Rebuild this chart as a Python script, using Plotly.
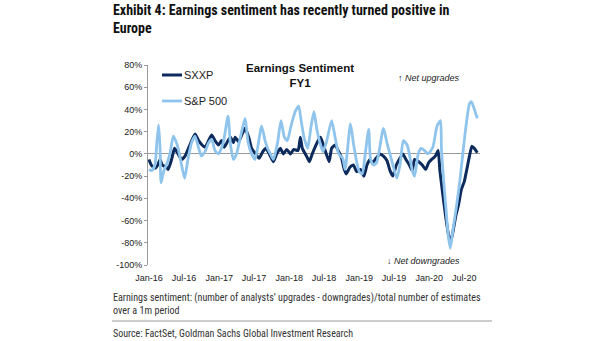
import plotly.graph_objects as go

# ---------------- data ----------------
spx_dates = [
    "2016-01-01", "2016-01-16", "2016-02-01", "2016-02-11", "2016-02-20", "2016-02-28",
    "2016-03-04", "2016-03-19", "2016-04-01", "2016-04-19", "2016-05-07", "2016-05-19",
    "2016-06-01", "2016-06-19", "2016-07-05", "2016-07-22", "2016-08-10", "2016-08-28",
    "2016-09-16", "2016-10-01", "2016-10-19", "2016-11-07", "2016-11-23", "2016-12-10",
    "2016-12-28", "2017-01-22", "2017-02-16", "2017-03-01", "2017-03-16", "2017-04-01",
    "2017-04-28", "2017-05-16", "2017-06-01", "2017-06-19", "2017-07-07", "2017-08-10",
    "2017-08-28", "2017-09-10", "2017-09-25", "2017-10-10", "2017-11-01", "2017-11-19",
    "2017-12-07", "2017-12-22", "2018-01-10", "2018-02-01", "2018-02-19", "2018-03-04",
    "2018-03-19", "2018-04-07", "2018-04-25", "2018-05-10", "2018-05-25", "2018-06-10",
    "2018-06-25", "2018-07-13", "2018-08-10", "2018-08-28", "2018-09-16", "2018-10-07",
    "2018-10-19", "2018-11-16", "2018-12-01", "2018-12-16", "2019-01-01", "2019-01-16",
    "2019-02-01", "2019-02-19", "2019-03-01", "2019-03-16", "2019-04-01", "2019-05-07",
    "2019-05-25", "2019-06-10", "2019-06-25", "2019-07-16", "2019-08-01", "2019-08-19",
    "2019-09-07", "2019-09-19", "2019-10-04", "2019-10-16", "2019-11-04", "2019-11-19",
    "2019-12-07", "2019-12-25", "2020-01-19", "2020-02-10", "2020-02-28", "2020-03-04",
    "2020-03-16", "2020-03-28", "2020-04-07", "2020-04-19", "2020-05-01", "2020-05-19",
    "2020-06-07", "2020-06-22", "2020-07-10", "2020-07-28", "2020-08-07", "2020-08-19",
    "2020-09-07",
]
spx_values = [
    -14, -15, -10, 10, 26, 5,
    -26, -15, -10, 0, 16, 12,
    5, -10, -22, -5, 10, 16,
    5, -2, 2, 10, 13, 3,
    0, 10, 34, 8, -5, 0,
    20, 32, 10, 0, -5, 25,
    12, 5, 0, -5, 10, 30,
    15, 12, 25, 38, 43, 30,
    15, 5, 25, 38, 22, 10,
    2, 10, 30, 15, 0, -4,
    -14, 27, 10, -5, -16, -18,
    0, 22, -5, -10, -8, 23,
    10, 0, -10, -22, -10, 12,
    8, 0, -15, -20, 0, 5,
    3, 0, 6, 25, 30, 5,
    -25, -50, -71, -85, -71, -50,
    -26, -2, 25, 45, 47, 42,
    32,
]

sxxp_dates = [
    "2016-01-01", "2016-01-13", "2016-02-01", "2016-02-16", "2016-02-28", "2016-03-10",
    "2016-04-01", "2016-04-10", "2016-04-28", "2016-05-13", "2016-05-22", "2016-06-01",
    "2016-06-19", "2016-07-07", "2016-08-01", "2016-08-28", "2016-09-16", "2016-10-04",
    "2016-10-19", "2016-11-07", "2016-11-23", "2016-12-10", "2016-12-28", "2017-01-13",
    "2017-01-28", "2017-02-16", "2017-03-01", "2017-03-16", "2017-03-25", "2017-04-13",
    "2017-05-01", "2017-05-16", "2017-06-04", "2017-06-19", "2017-07-10", "2017-07-28",
    "2017-08-16", "2017-09-01", "2017-09-19", "2017-10-10", "2017-10-28", "2017-11-16",
    "2017-12-01", "2017-12-19", "2018-01-07", "2018-01-25", "2018-02-16", "2018-02-28",
    "2018-03-10", "2018-04-01", "2018-04-16", "2018-05-01", "2018-06-01", "2018-06-13",
    "2018-06-28", "2018-07-13", "2018-07-28", "2018-08-10", "2018-08-28", "2018-09-16",
    "2018-10-01", "2018-10-13", "2018-10-25", "2018-11-13", "2018-12-01", "2018-12-19",
    "2019-01-07", "2019-01-25", "2019-02-10", "2019-02-25", "2019-03-10", "2019-03-25",
    "2019-04-19", "2019-05-07", "2019-05-25", "2019-06-10", "2019-06-25", "2019-07-13",
    "2019-07-28", "2019-08-16", "2019-09-01", "2019-09-19", "2019-10-04", "2019-10-16",
    "2019-11-07", "2019-11-25", "2019-12-13", "2019-12-28", "2020-01-13", "2020-02-01",
    "2020-02-16", "2020-02-25", "2020-03-10", "2020-03-25", "2020-04-07", "2020-04-19",
    "2020-05-01", "2020-05-19", "2020-06-01", "2020-06-16", "2020-07-01", "2020-07-13",
    "2020-07-28", "2020-08-10", "2020-08-22", "2020-09-07",
]
sxxp_values = [
    -5, -10, -13, -10, -5, -10,
    -12, -14, -5, 5, 3, 0,
    -5, -2, 8, 18, 12, 8,
    6, 12, 17, 12, 8, 12,
    6, 12, 15, 10, 15, 11,
    18, 23, 15, 5, 0, -4,
    2, 5, 0, -7, 0, 5,
    0, 4, 0, 4, 3, 15,
    5, -2, -7, 0, 12, 15,
    8, 0, -7, 5, 8, 2,
    -4, -13, -18, -12, -10, -16,
    -14, -20, -10, -5, -8, -5,
    0, -2, -6, -15, -20, -10,
    -5, 0, -5, -10, -15, -5,
    -7, -10, -14, -8, -5, -2,
    3, -15, -35, -55, -70, -80,
    -72, -55, -46, -32, -25, -15,
    -2, 7, 5, 1,
]

y_tick_vals = [80, 60, 40, 20, 0, -20, -40, -60, -80, -100]
y_tick_text = ["80%", "60%", "40%", "20%", "0%", "-20%", "-40%", "-60%", "-80%", "-100%"]

title_text = "Exhibit 4: Earnings sentiment has recently turned positive in<br>Europe"
chart_title = "Earnings Sentiment<br>FY1"
note_text = ("Earnings sentiment: (number of analysts\u2019 upgrades - downgrades)/total number of estimates"
             "<br>over a 1m period")
source_text = "Source: FactSet, Goldman Sachs Global Investment Research"

# ---------------- styling ----------------
DARK = "#0c2a5b"
LIGHT = "#8fc4ec"
AXIS_FONT = "Liberation Sans, Arial, sans-serif"
NARROW = "Roboto Condensed, Liberation Sans Narrow, DejaVu Sans Condensed, sans-serif"

W, H = 605, 341
L, R, T, B = 148, 125, 65, 76
pw, ph = W - L - R, H - T - B


def px(x):
    return (x - L) / pw


def py(y):
    return (H - B - y) / ph


fig = go.Figure()
fig.add_trace(go.Scatter(x=sxxp_dates, y=sxxp_values, mode="lines", name="SXXP",
                         line=dict(color=DARK, width=3, shape="spline", smoothing=0.5),
                         showlegend=False))
fig.add_trace(go.Scatter(x=spx_dates, y=spx_values, mode="lines", name="S&P 500",
                         line=dict(color=LIGHT, width=2.8, shape="spline", smoothing=0.6),
                         showlegend=False))

fig.update_layout(
    width=W, height=H,
    margin=dict(l=L, r=R, t=T, b=B, pad=0),
    paper_bgcolor="white", plot_bgcolor="white",
    showlegend=False,
    font=dict(family=AXIS_FONT, size=9, color="#222"),
)
fig.update_xaxes(
    type="date",
    range=["2015-12-27", "2020-09-21"],
    tick0="2016-01-01", dtick="M6", tickformat="%b-%y",
    showgrid=False, zeroline=False, showline=False,
    ticks="outside", ticklen=4, tickcolor="rgba(0,0,0,0)",
    tickfont=dict(size=9, color="#222"),
)
fig.update_yaxes(
    range=[-100, 80],
    tickvals=y_tick_vals, ticktext=y_tick_text,
    showgrid=False,
    zeroline=True, zerolinecolor="#9a9a9a", zerolinewidth=1,
    showline=True, linecolor="#9a9a9a", linewidth=1,
    ticks="outside", ticklen=3, tickcolor="#9a9a9a",
    tickfont=dict(size=9, color="#222"),
)

ann = []
# main title
ann.append(dict(xref="paper", yref="paper", x=px(111), y=py(0), xanchor="left", yanchor="top",
                text="<b>" + title_text + "</b>", showarrow=False, align="left",
                font=dict(family=NARROW, size=14, color="#111")))
# chart inner title
ann.append(dict(xref="paper", yref="paper", x=px(300), y=py(60), xanchor="center", yanchor="top",
                text="<b>" + chart_title + "</b>", showarrow=False, align="center",
                font=dict(family=AXIS_FONT, size=11.5, color="#111")))
# legend texts
ann.append(dict(xref="paper", yref="paper", x=px(182), y=py(75), xanchor="left", yanchor="middle",
                text="SXXP", showarrow=False, font=dict(family=AXIS_FONT, size=11, color="#222")))
ann.append(dict(xref="paper", yref="paper", x=px(182), y=py(101), xanchor="left", yanchor="middle",
                text="S&P 500", showarrow=False, font=dict(family=AXIS_FONT, size=11, color="#222")))
# net upgrades / downgrades
ann.append(dict(xref="paper", yref="paper", x=px(462), y=py(78), xanchor="right", yanchor="middle",
                text="\u2191 <i>Net upgrades</i>", showarrow=False,
                font=dict(family=AXIS_FONT, size=9, color="#222")))
ann.append(dict(xref="paper", yref="paper", x=px(462), y=py(261), xanchor="right", yanchor="middle",
                text="\u2193 <i>Net downgrades</i>", showarrow=False,
                font=dict(family=AXIS_FONT, size=9, color="#222")))
# footnotes
ann.append(dict(xref="paper", yref="paper", x=px(111), y=py(303.5), xanchor="left", yanchor="middle",
                text=note_text, showarrow=False, align="left",
                font=dict(family=NARROW, size=10.1, color="#333")))
ann.append(dict(xref="paper", yref="paper", x=px(111), y=py(333), xanchor="left", yanchor="middle",
                text=source_text, showarrow=False, font=dict(family=NARROW, size=10, color="#333")))
fig.update_layout(annotations=ann)

shapes = [
    dict(type="line", xref="paper", yref="paper", x0=px(162), x1=px(182), y0=py(75), y1=py(75),
         line=dict(color=DARK, width=3)),
    dict(type="line", xref="paper", yref="paper", x0=px(162), x1=px(182), y0=py(101), y1=py(101),
         line=dict(color=LIGHT, width=2.8)),
    dict(type="line", xref="paper", yref="paper", x0=px(112), x1=px(492), y0=py(321), y1=py(321),
         line=dict(color="#9a9a9a", width=1)),
]
fig.update_layout(shapes=shapes)

fig.write_html("out.html")
